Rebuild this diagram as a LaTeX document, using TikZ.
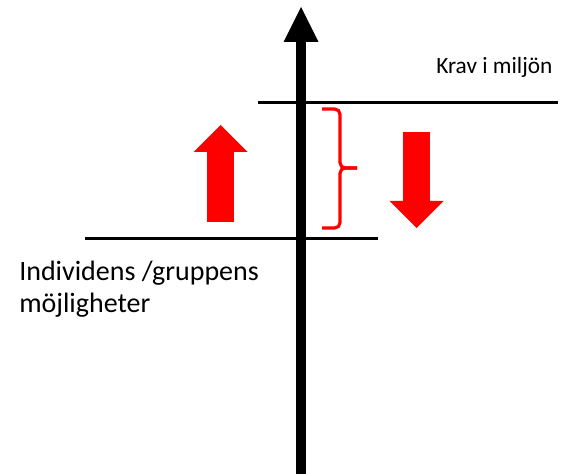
\documentclass[tikz,border=0pt]{standalone}
\usepackage{fontspec}
\setmainfont{Carlito}
\usetikzlibrary{arrows.meta}
\tikzset{
	etikett/.style = {inner sep=0pt, font=\fontsize{17.5}{23.25}\selectfont},% text
	etikett_stor/.style = {etikett, font=\fontsize{21}{23.5}\selectfont},
	nivalinje/.style = {line width=2.25pt, black},% horisontell nivå
	axelpil/.style = {line width=7.5pt, -{Triangle[width=26.25pt, length=26.25pt, line width=0pt]}},
	blockpil/.style = {line width=20.25pt, red,
		-{Triangle[width=40.5pt, length=20.25pt, line width=0pt]}},% röd pil
	klammer/.style = {red, line width=2.4pt, rounded corners=4pt}
}

\begin{document}
\begin{tikzpicture}[x=0.75pt, y=-0.75pt]
		\useasboundingbox (0,0) rectangle (564,474);
		% axeln
		\coordinate (axb) at (301,474);
		\coordinate (axt) at (301,7);
		% nivåer
		\coordinate (krav_v) at (258,103);
		\coordinate (krav_h) at (558,103);
		\coordinate (mojl_v) at (85,238);
		\coordinate (mojl_h) at (378,238);
		\draw[nivalinje] (krav_v) -- (krav_h);
		\draw[nivalinje] (mojl_v) -- (mojl_h);
		\draw[axelpil] (axb) -- (axt);
		% pilar
		\coordinate (upp_b) at (220.5,222);
		\coordinate (upp_t) at (220.5,125);
		\coordinate (ned_t) at (416.5,132);
		\coordinate (ned_b) at (416.5,228);
		\draw[blockpil] (upp_b) -- (upp_t);
		\draw[blockpil] (ned_t) -- (ned_b);
		% klammer
		\coordinate (kl_t) at (322,109);
		\coordinate (kl_m) at (340,168);
		\coordinate (kl_s) at (357,168);
		\coordinate (kl_b) at (322,228);
		\draw[klammer] (kl_t) -| (kl_m) -- (kl_s);
		\draw[klammer] (kl_b) -| (kl_m) -- (kl_s);
		% texter
		\node[etikett, anchor=base west] (krav) at (436,74) {Krav i miljön};
		\node[etikett_stor, anchor=north west, align=left] (individ) at (19,261)
			{Individens /gruppens\\möjligheter};
\end{tikzpicture}
\end{document}
